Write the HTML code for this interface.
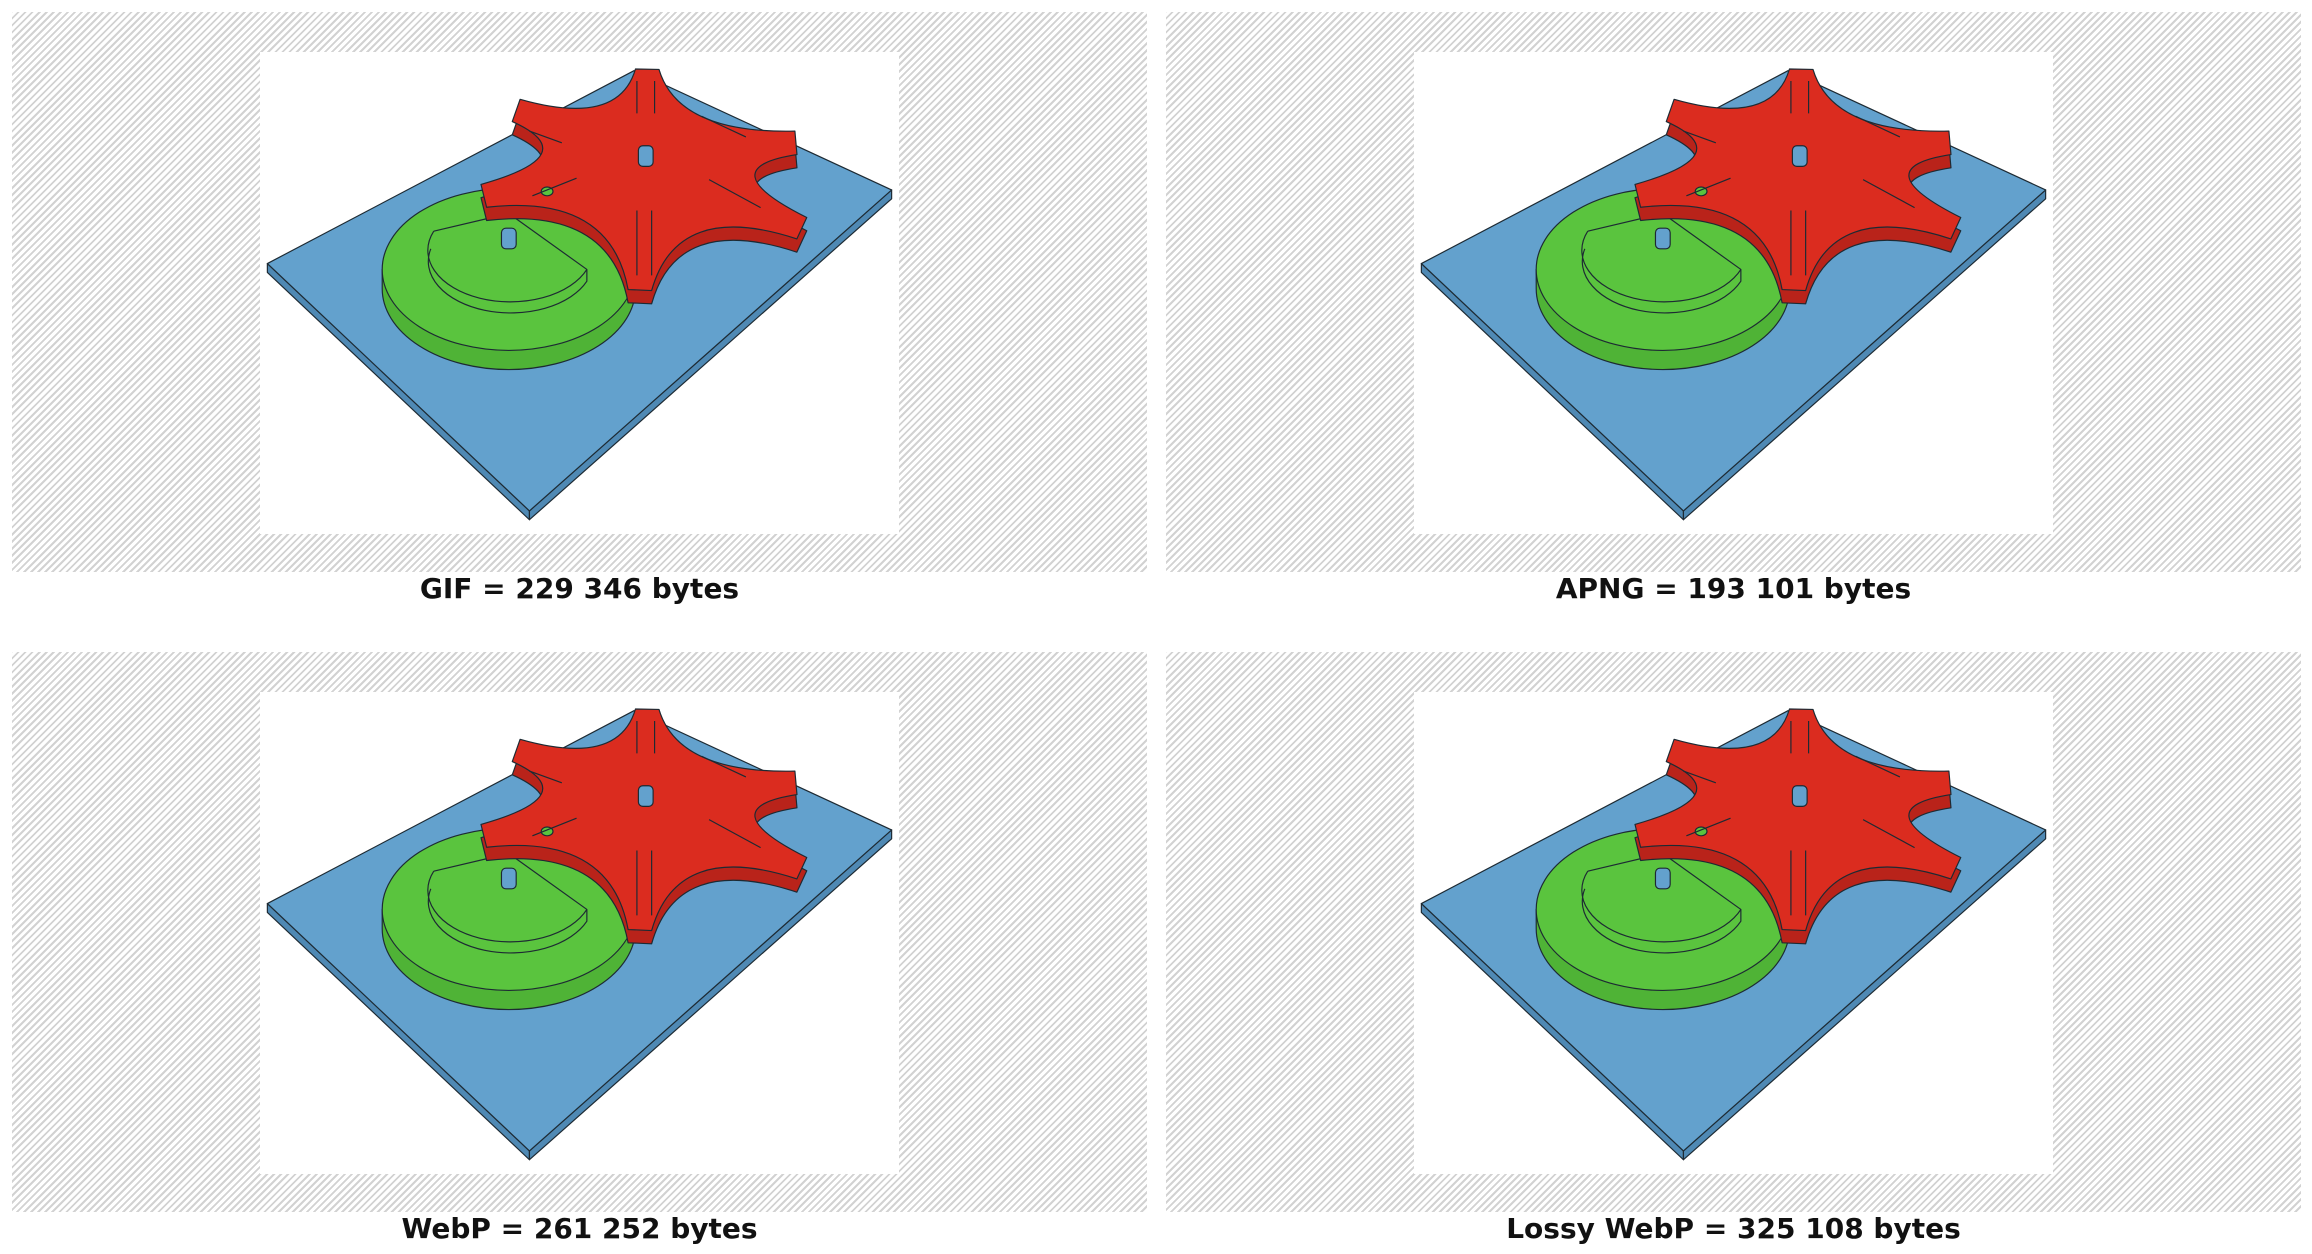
<!DOCTYPE html>
<html><head><meta charset="utf-8">
<style>
html,body{margin:0;padding:0;background:#fff;}
body{width:2312px;height:1254px;position:relative;overflow:hidden;font-family:"DejaVu Sans","Liberation Sans",sans-serif;}
.panel{position:absolute;width:1135px;height:560px;
 background:repeating-linear-gradient(-45deg,#fff 0px,#fff 3px,#d2d2d2 3px,#d2d2d2 5px);}
.img{position:absolute;left:248px;top:40px;width:639px;height:482px;background:#fff;}
.cap{position:absolute;width:1135px;text-align:center;font-weight:bold;font-size:28px;color:#111;top:0;}
svg{display:block}
</style></head><body>
<div class="panel" style="left:12px;top:12px"><div class="img">
<svg id="scene" viewBox="0 0 434 324" width="639" height="482">
 <g stroke="#1d2a33" stroke-width="0.8" stroke-linejoin="round">
  <polygon points="5,142 183,310 183,316 5,148" fill="#4f89b4"/>
  <polygon points="183,310 429,92 429,98 183,316" fill="#4f89b4"/>
  <polygon points="5,142 254,11 429,92 183,310" fill="#63a1cd"/>
  <path d="M83,146 L83,159 A86,55 0 0 0 255,159 L255,146 Z" fill="#4fb336"/>
  <ellipse cx="169" cy="146" rx="86" ry="55" fill="#5ac43e"/>
  <path d="M118,120 A56,35 0 1 0 222,146 L222,154 A56,35 0 0 1 116,132" fill="none"/>
  <path d="M118,120 L169,108 L222,146" fill="none"/>
  <path id="starSide" fill="#b9231a"/>
  <path id="starTop" fill="#db2c1f"/>
  <rect x="257" y="62" width="10" height="14" rx="3" fill="#63a1cd"/>
  <rect x="164" y="118" width="10" height="14" rx="3" fill="#63a1cd"/>
  <ellipse cx="195" cy="93" rx="4" ry="3" fill="#5ac43e"/>
  <path d="M300,42 L330,56 M305,85 L340,104 M256,106 L256,150 M266,106 L266,150 M185,96 L215,84 M256,18 L256,40 M268,18 L268,40 M183,52 L205,60" fill="none"/>
 </g>
</svg></div></div>
<div class="cap" style="left:12px;top:572px">GIF = 229 346 bytes</div>

<div class="panel" style="left:1166px;top:12px"><div class="img"></div></div>
<div class="cap" style="left:1166px;top:572px">APNG = 193 101 bytes</div>

<div class="panel" style="left:12px;top:652px"><div class="img"></div></div>
<div class="cap" style="left:12px;top:1212px">WebP = 261 252 bytes</div>

<div class="panel" style="left:1166px;top:652px"><div class="img"></div></div>
<div class="cap" style="left:1166px;top:1212px">Lossy WebP = 325 108 bytes</div>

<script>
var cx=262, cy=69;
var tips=[[263,10],[364,60],[368,118],[258,160],[152,96],[174,38]];
tips.sort(function(a,b){return Math.atan2(a[1]-cy,a[0]-cx)-Math.atan2(b[1]-cy,b[0]-cx);});
function starPath(dy){
  var pts=[];
  tips.forEach(function(t){
    var dx=t[0]-cx, dyy=t[1]-cy, L=Math.hypot(dx,dyy), ux=-dyy/L*8, uy=dx/L*8;
    pts.push([[t[0]-ux,t[1]-uy+dy],[t[0]+ux,t[1]+uy+dy]]);
  });
  var d="M"+pts[0][0][0]+","+pts[0][0][1]+" L"+pts[0][1][0]+","+pts[0][1][1];
  for(var i=1;i<=pts.length;i++){
    var p=pts[i%pts.length], a=pts[i-1][1];
    var mx=(a[0]+p[0][0])/2, my=(a[1]+p[0][1])/2;
    var qx=mx+(cx-mx)*0.6, qy=my+(cy+dy-my)*0.6;
    d+=" Q"+qx+","+qy+" "+p[0][0]+","+p[0][1]+" L"+p[1][0]+","+p[1][1];
  }
  return d+" Z";
}
document.getElementById('starSide').setAttribute('d',starPath(9));
document.getElementById('starTop').setAttribute('d',starPath(0));
var src=document.getElementById('scene');
var imgs=document.querySelectorAll('.img');
for(var i=1;i<imgs.length;i++){
  var c=src.cloneNode(true);
  c.removeAttribute('id');
  
  
  imgs[i].appendChild(c);
}
</script>
</body></html>
